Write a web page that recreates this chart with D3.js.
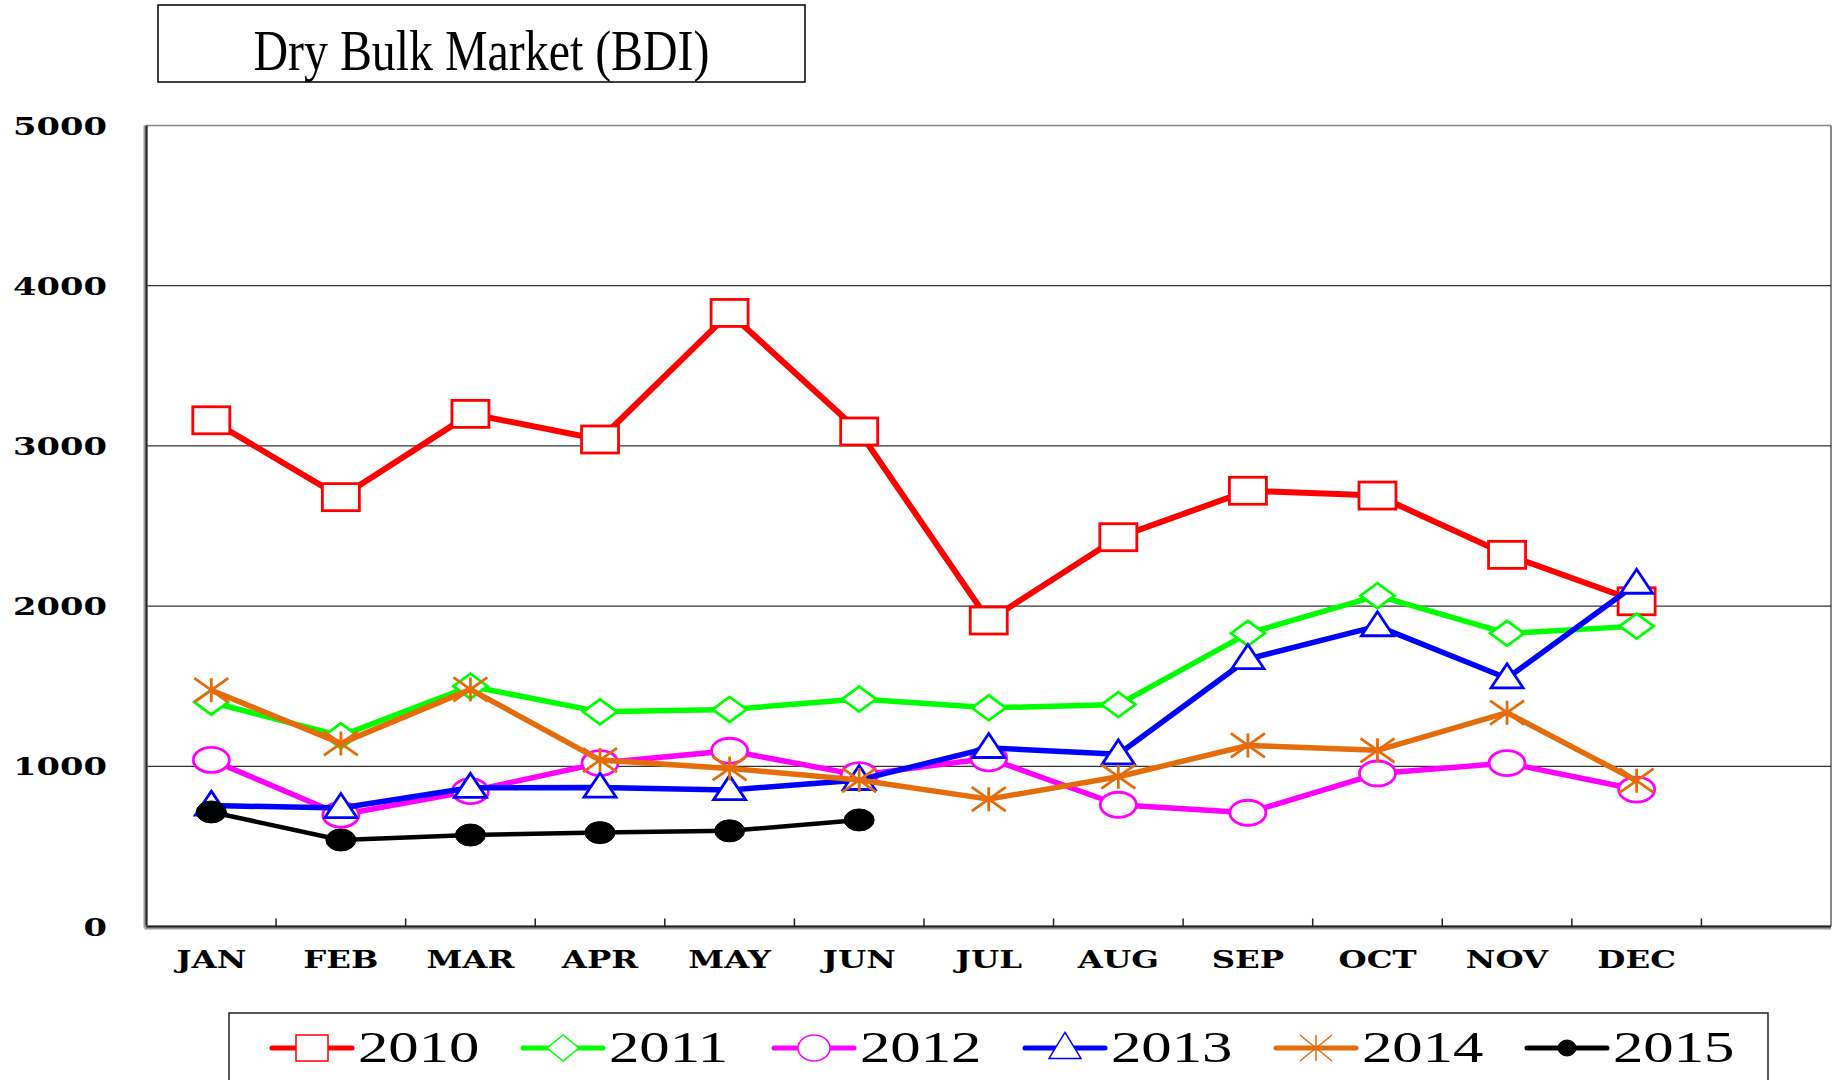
<!DOCTYPE html>
<html>
<head>
<meta charset="utf-8">
<script src="https://cdn.jsdelivr.net/npm/d3@7"></script>
<style>
  body { margin: 0; background: #fff; }
  svg { display: block; }
</style>
</head>
<body>
<svg width="1834" height="1080"></svg>
<script>
var months = ["JAN", "FEB", "MAR", "APR", "MAY", "JUN", "JUL", "AUG", "SEP", "OCT", "NOV", "DEC"];
var yTicks = [0, 1000, 2000, 3000, 4000, 5000];
var years = ["2010", "2011", "2012", "2013", "2014", "2015"];

var bdi2010 = [3160, 2680, 3200, 3040, 3830, 3090, 1910, 2430, 2720, 2690, 2320, 2030];
var bdi2011 = [1400, 1190, 1500, 1340, 1355, 1420, 1365, 1385, 1830, 2065, 1830, 1875];
var bdi2012 = [1040, 698, 845, 1020, 1097, 945, 1050, 760, 710, 955, 1020, 855];
var bdi2013 = [755, 740, 866, 868, 852, 915, 1115, 1075, 1670, 1875, 1550, 2140];
var bdi2014 = [1475, 1143, 1480, 1039, 987, 914, 795, 935, 1130, 1100, 1335, 910];
var bdi2015 = [715, 540, 571, 586, 597, 665];

var loadVis = function() {
    var svg = d3.select("svg");

    var left = 146.5, right = 1831, top = 125.5, bottom = 926.5;
    var stretch = 1.35;

    var series = [
        { name: "2010", values: bdi2010, color: "#ff0000", shape: "square", w: 37, h: 27, lw: 6 },
        { name: "2011", values: bdi2011, color: "#00ff00", shape: "diamond", w: 34, h: 25, lw: 5.5 },
        { name: "2012", values: bdi2012, color: "#ff00ff", shape: "circle", w: 36, h: 25, lw: 5.5 },
        { name: "2013", values: bdi2013, color: "#0000ff", shape: "triangle", w: 32, h: 24, lw: 5.5 },
        { name: "2014", values: bdi2014, color: "#e46c0a", shape: "star", w: 34, h: 24, lw: 5.5 },
        { name: "2015", values: bdi2015, color: "#000000", shape: "dot", w: 30, h: 22, lw: 4.5 }
    ];

    var x = d3.scaleBand()
        .domain(months.concat(["_"]))
        .range([left, right])
        .padding(0);

    var y = d3.scaleLinear()
        .domain([0, 5000])
        .range([bottom, top]);

    var cx = function(i) { return x(months[i]) + x.bandwidth() / 2; };

    // title box
    svg.append("rect")
        .attr("x", 158).attr("y", 5)
        .attr("width", 647).attr("height", 77)
        .attr("fill", "none").attr("stroke", "#000").attr("stroke-width", 1.5);
    svg.append("text")
        .attr("x", 481.5).attr("y", 70)
        .attr("text-anchor", "middle")
        .attr("font-family", "Liberation Serif")
        .attr("font-size", 58)
        .attr("textLength", 456)
        .attr("lengthAdjust", "spacingAndGlyphs")
        .text("Dry Bulk Market (BDI)");

    // frame
    svg.append("line")
        .attr("x1", left).attr("x2", right).attr("y1", top).attr("y2", top)
        .attr("stroke", "#888").attr("stroke-width", 1.5);
    svg.append("line")
        .attr("x1", right).attr("x2", right).attr("y1", top).attr("y2", bottom)
        .attr("stroke", "#888").attr("stroke-width", 2);

    // gridlines
    svg.append("g")
        .selectAll("line")
        .data(yTicks.filter(function(d) { return d > 0 && d < 5000; }))
        .enter().append("line")
            .attr("x1", left).attr("x2", right)
            .attr("y1", function(d) { return y(d); })
            .attr("y2", function(d) { return y(d); })
            .attr("stroke", "#000").attr("stroke-width", 1);

    // axes
    svg.append("line")
        .attr("x1", left - 1).attr("x2", left - 1).attr("y1", top).attr("y2", bottom + 1)
        .attr("stroke", "#999").attr("stroke-width", 4);
    svg.append("line")
        .attr("x1", left).attr("x2", left).attr("y1", top).attr("y2", bottom)
        .attr("stroke", "#222").attr("stroke-width", 2);
    svg.append("line")
        .attr("x1", left - 2).attr("x2", right).attr("y1", bottom + 1).attr("y2", bottom + 1)
        .attr("stroke", "#999").attr("stroke-width", 4);
    svg.append("line")
        .attr("x1", left).attr("x2", right).attr("y1", bottom).attr("y2", bottom)
        .attr("stroke", "#222").attr("stroke-width", 2);

    // x ticks at band edges
    svg.append("g")
        .selectAll("line")
        .data(months)
        .enter().append("line")
            .attr("x1", function(d) { return x(d) + x.bandwidth(); })
            .attr("x2", function(d) { return x(d) + x.bandwidth(); })
            .attr("y1", bottom).attr("y2", bottom - 8)
            .attr("stroke", "#222").attr("stroke-width", 1.5);

    // y labels
    svg.append("g")
        .selectAll("text")
        .data(yTicks)
        .enter().append("text")
            .attr("transform", function(d) { return "translate(107," + (y(d) + 9) + ") scale(" + stretch + ",1)"; })
            .attr("text-anchor", "end")
            .attr("font-family", "DejaVu Serif")
            .attr("font-weight", "bold")
            .attr("font-size", 25)
            .text(function(d) { return d; });

    // x labels
    svg.append("g")
        .selectAll("text")
        .data(months)
        .enter().append("text")
            .attr("transform", function(d, i) { return "translate(" + cx(i) + ",968) scale(" + stretch + ",1)"; })
            .attr("text-anchor", "middle")
            .attr("font-family", "DejaVu Serif")
            .attr("font-weight", "bold")
            .attr("font-size", 24)
            .text(function(d) { return d; });

    var drawMarker = function(g, s, px, py, w, h, sw) {
        if (s.shape === "square") {
            g.append("rect")
                .attr("x", px - w / 2).attr("y", py - h / 2)
                .attr("width", w).attr("height", h)
                .attr("fill", "#fff").attr("stroke", s.color).attr("stroke-width", sw);
        } else if (s.shape === "diamond") {
            g.append("path")
                .attr("d", "M" + (px - w / 2) + "," + py + "L" + px + "," + (py - h / 2) +
                    "L" + (px + w / 2) + "," + py + "L" + px + "," + (py + h / 2) + "Z")
                .attr("fill", "#fff").attr("stroke", s.color).attr("stroke-width", sw);
        } else if (s.shape === "circle") {
            g.append("ellipse")
                .attr("cx", px).attr("cy", py).attr("rx", w / 2).attr("ry", h / 2)
                .attr("fill", "#fff").attr("stroke", s.color).attr("stroke-width", sw);
        } else if (s.shape === "triangle") {
            g.append("path")
                .attr("d", "M" + px + "," + (py - h * 0.6) + "L" + (px + w / 2) + "," + (py + h * 0.4) +
                    "L" + (px - w / 2) + "," + (py + h * 0.4) + "Z")
                .attr("fill", "#fff").attr("stroke", s.color).attr("stroke-width", sw);
        } else if (s.shape === "star") {
            g.append("path")
                .attr("d", "M" + px + "," + (py - h / 2) + "L" + px + "," + (py + h / 2) +
                    "M" + (px - w / 2) + "," + (py - h / 2) + "L" + (px + w / 2) + "," + (py + h / 2) +
                    "M" + (px - w / 2) + "," + (py + h / 2) + "L" + (px + w / 2) + "," + (py - h / 2))
                .attr("fill", "none").attr("stroke", s.color).attr("stroke-width", sw);
        } else if (s.shape === "dot") {
            g.append("ellipse")
                .attr("cx", px).attr("cy", py).attr("rx", w / 2).attr("ry", h / 2)
                .attr("fill", s.color).attr("stroke", s.color).attr("stroke-width", 1);
        }
    };

    var line = d3.line()
        .x(function(d, i) { return cx(i); })
        .y(function(d) { return y(d); });

    series.forEach(function(s) {
        var g = svg.append("g").attr("class", "series");
        g.append("path")
            .attr("d", line(s.values))
            .attr("fill", "none")
            .attr("stroke", s.color)
            .attr("stroke-width", s.lw)
            .attr("stroke-linejoin", "round");
        s.values.forEach(function(v, i) {
            drawMarker(g, s, cx(i), y(v), s.w, s.h, 2.8);
        });
    });

    // legend
    var legendX = 272, legendStep = 251, legendY = 1048;
    svg.append("rect")
        .attr("x", 229).attr("y", 1013)
        .attr("width", 1539).attr("height", 120)
        .attr("fill", "none").attr("stroke", "#222").attr("stroke-width", 1.5);

    series.forEach(function(s, k) {
        var g = svg.append("g");
        var lx = legendX + k * legendStep;
        g.append("line")
            .attr("x1", lx).attr("x2", lx + 80)
            .attr("y1", legendY).attr("y2", legendY)
            .attr("stroke", s.color).attr("stroke-width", 5).attr("stroke-linecap", "round");
        var mw = s.shape === "dot" ? 18 : 32;
        var mh = s.shape === "dot" ? 16 : 26;
        drawMarker(g, s, lx + 40, legendY, mw, mh, 1.5);
        g.append("text")
            .attr("transform", "translate(" + (lx + 86) + ",1062) scale(" + stretch + ",1)")
            .attr("font-family", "Liberation Serif")
            .attr("font-size", 45)
            .text(years[k]);
    });
};

document.addEventListener('DOMContentLoaded', loadVis, false);
</script>
</body>
</html>
